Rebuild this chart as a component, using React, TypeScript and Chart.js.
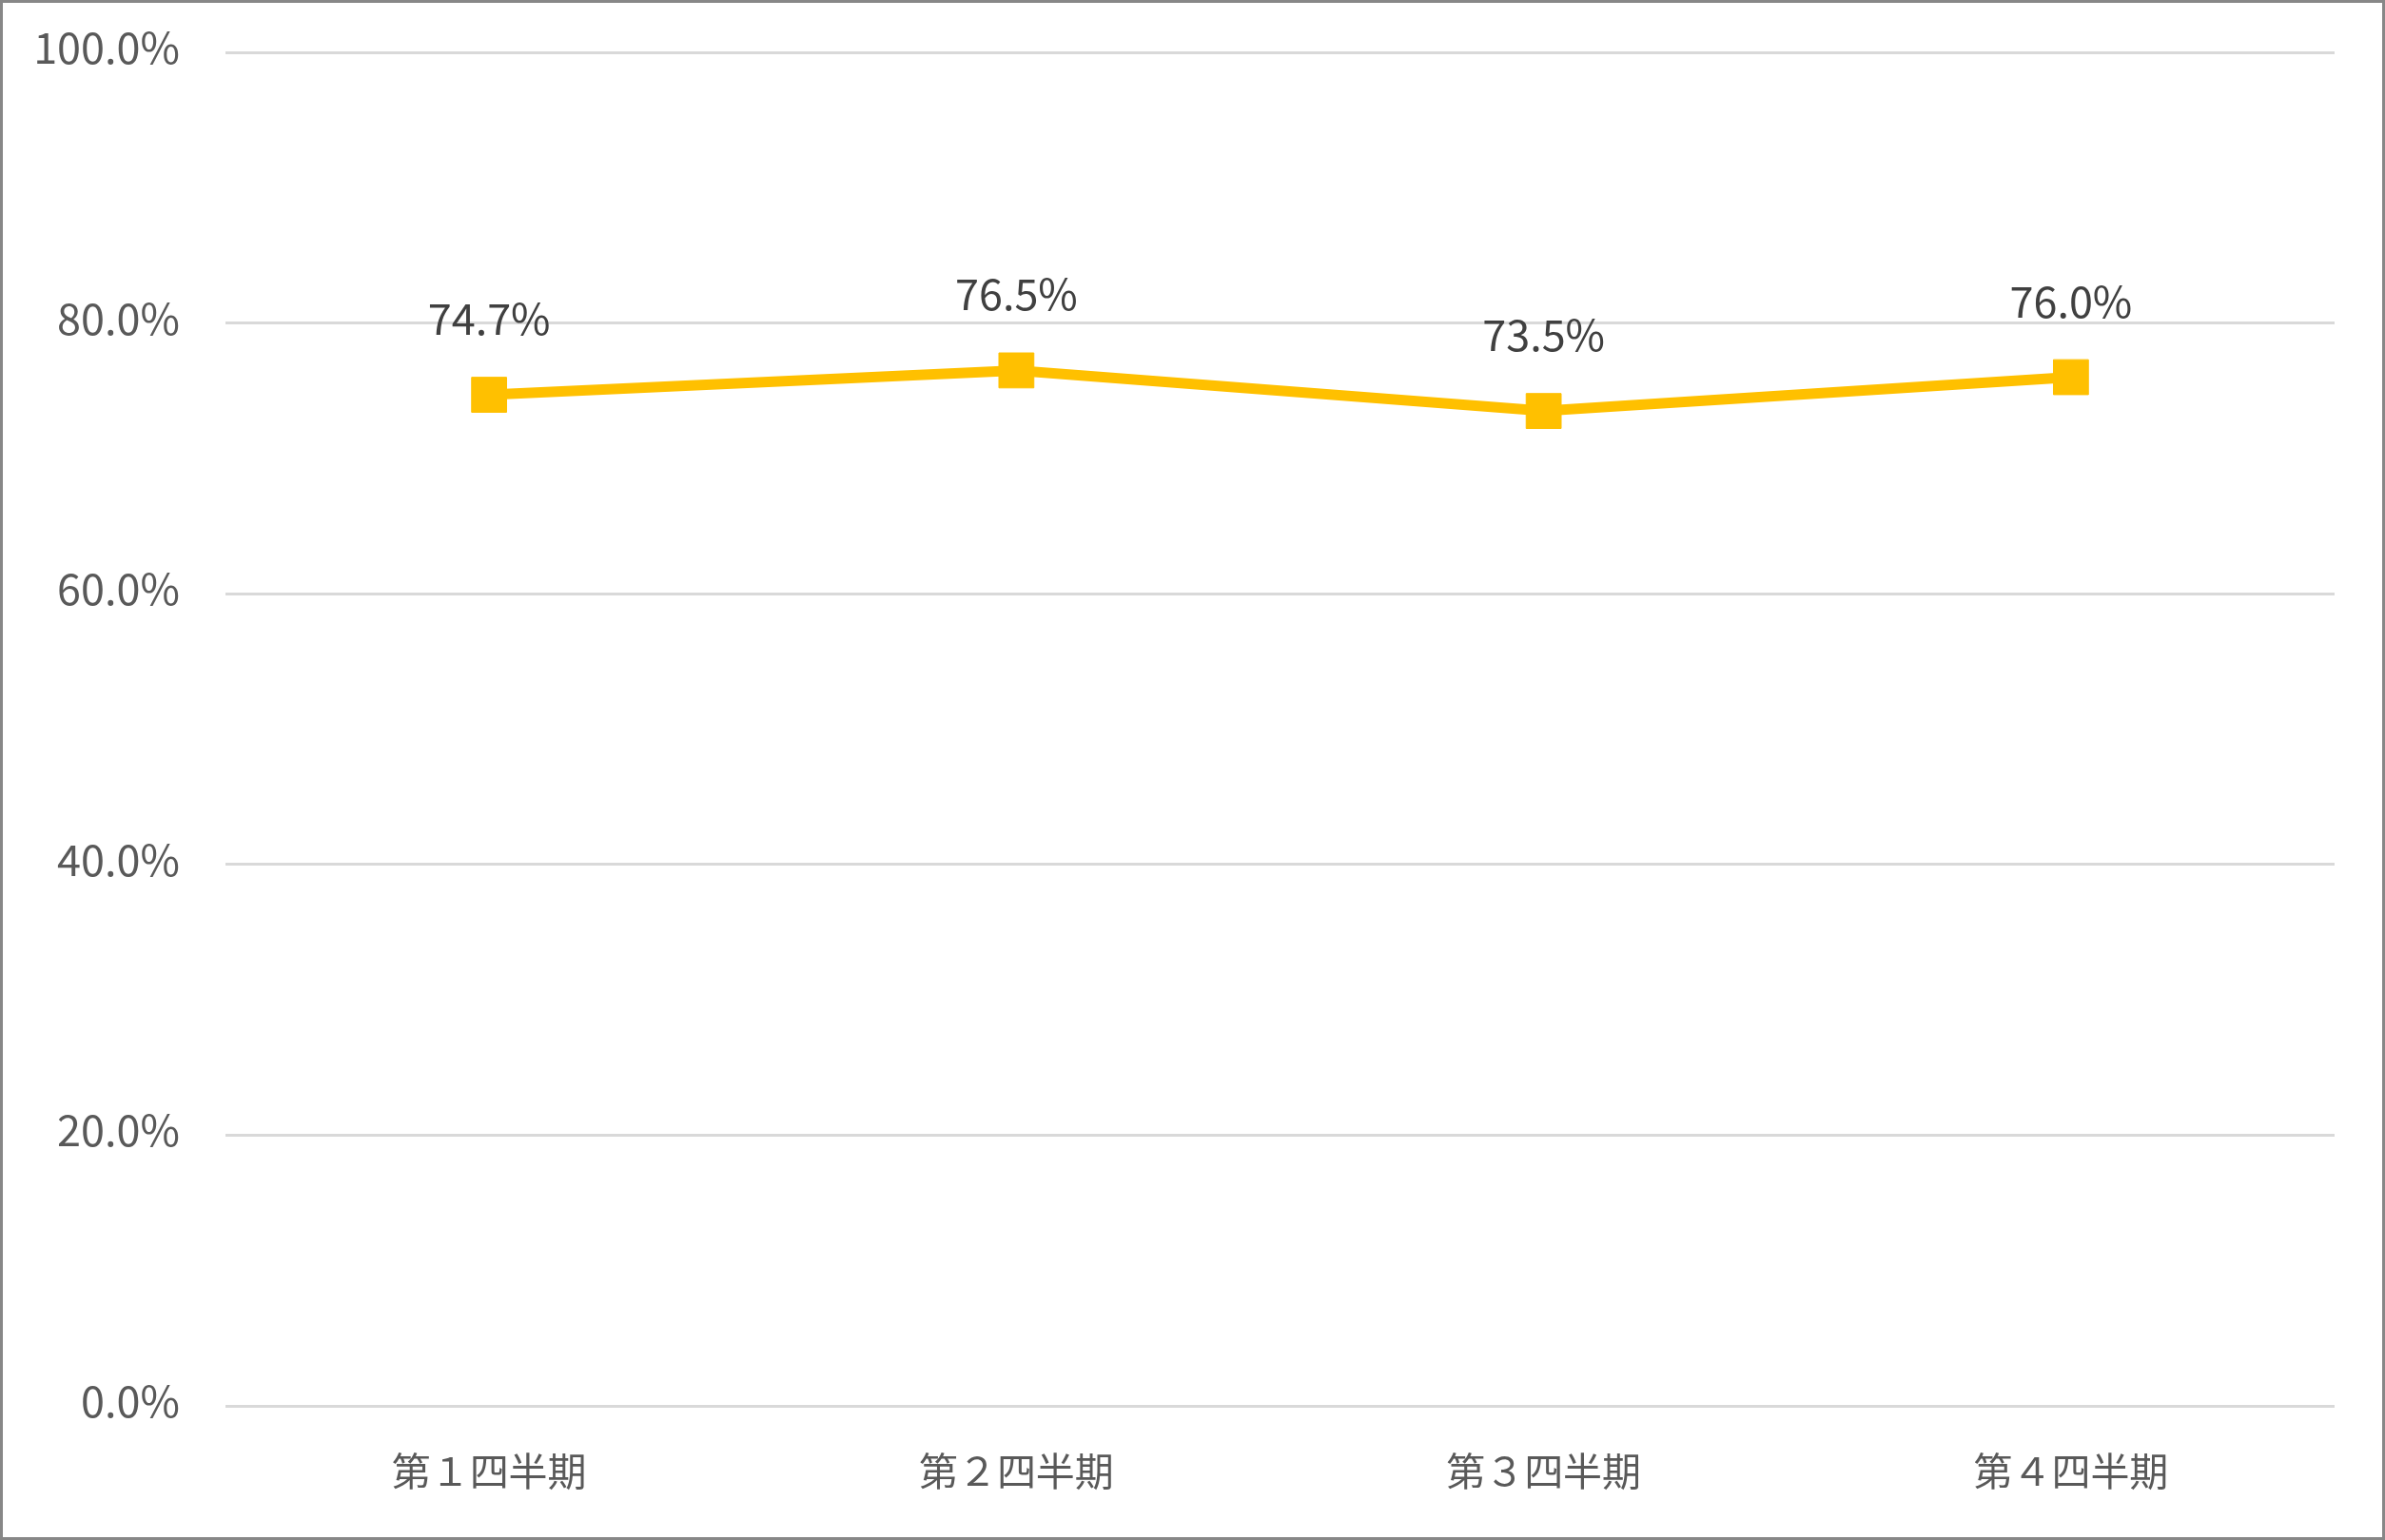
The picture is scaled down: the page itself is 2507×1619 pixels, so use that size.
import React, { useEffect, useRef } from 'react';
import { Chart, ChartConfiguration, Plugin, registerables } from 'chart.js';

Chart.register(...registerables);

const quarters = ['第１四半期', '第２四半期', '第３四半期', '第４四半期'];
const rates = [74.7, 76.5, 73.5, 76.0];
const yTicks = [0, 20, 40, 60, 80, 100];

const FONT = '"Noto Sans CJK JP", "Noto Sans", sans-serif';

// draws the value above every point, like Excel's data labels
const valueLabels: Plugin<'line'> = {
  id: 'valueLabels',
  afterDatasetsDraw(chart) {
    const ctx = chart.ctx;
    const meta = chart.getDatasetMeta(0);
    ctx.save();
    ctx.font = `45px ${FONT}`;
    ctx.fillStyle = '#404040';
    ctx.textAlign = 'center';
    ctx.textBaseline = 'middle';
    meta.data.forEach((pt, i) => {
      ctx.fillText(rates[i].toFixed(1) + '%', pt.x, pt.y - 80);
    });
    ctx.restore();
  },
};

const App: React.FC = () => {
  const chartRef = useRef<HTMLCanvasElement>(null);
  const chartInstanceRef = useRef<Chart | null>(null);

  useEffect(() => {
    document.body.style.margin = '0';
    if (!chartRef.current) return;
    const ctx = chartRef.current.getContext('2d');
    if (!ctx) return;

    if (chartInstanceRef.current) {
      chartInstanceRef.current.destroy();
    }

    const config: ChartConfiguration<'line'> = {
      type: 'line',
      data: {
        labels: quarters,
        datasets: [
          {
            label: '割合',
            data: rates,
            borderColor: '#FFC000',
            backgroundColor: '#FFC000',
            borderWidth: 11,
            tension: 0,
            pointStyle: 'rect',
            pointRadius: 26,
            pointBorderWidth: 1,
            pointBackgroundColor: '#FFC000',
            pointBorderColor: '#FFC000',
          },
        ],
      },
      options: {
        responsive: false,
        animation: false,
        devicePixelRatio: 1,
        layout: { autoPadding: false, padding: { top: 52, right: 50, bottom: 0, left: 0 } },
        scales: {
          x: {
            offset: true,
            grid: { display: false, drawTicks: false },
            border: { display: false },
            ticks: { color: '#595959', font: { family: FONT, size: 41 }, padding: 44 },
            afterFit: (scale) => {
              scale.height = 138;
            },
          },
          y: {
            min: 0,
            max: 100,
            afterBuildTicks: (scale) => {
              scale.ticks = yTicks.map((v) => ({ value: v }));
            },
            grid: { color: '#d9d9d9', lineWidth: 3, drawTicks: false },
            border: { display: false },
            ticks: {
              color: '#595959',
              font: { family: FONT, size: 45 },
              padding: 48,
              labelOffset: -5,
              callback: (value) => Number(value).toFixed(1) + '%',
            },
            afterFit: (scale) => {
              scale.width = 234;
              scale.paddingTop = 0;
              scale.paddingBottom = 0;
            },
          },
        },
        plugins: {
          legend: { display: false },
          tooltip: { enabled: false },
        },
      },
      plugins: [valueLabels],
    };

    chartInstanceRef.current = new Chart(ctx, config);

    return () => {
      if (chartInstanceRef.current) {
        chartInstanceRef.current.destroy();
        chartInstanceRef.current = null;
      }
    };
  }, []);

  return (
    <div
      style={{
        width: 2507,
        height: 1619,
        boxSizing: 'border-box',
        border: '3px solid #878787',
        background: '#ffffff',
      }}
    >
      <canvas ref={chartRef} width={2501} height={1613} style={{ display: 'block' }} />
    </div>
  );
};

export default App;
